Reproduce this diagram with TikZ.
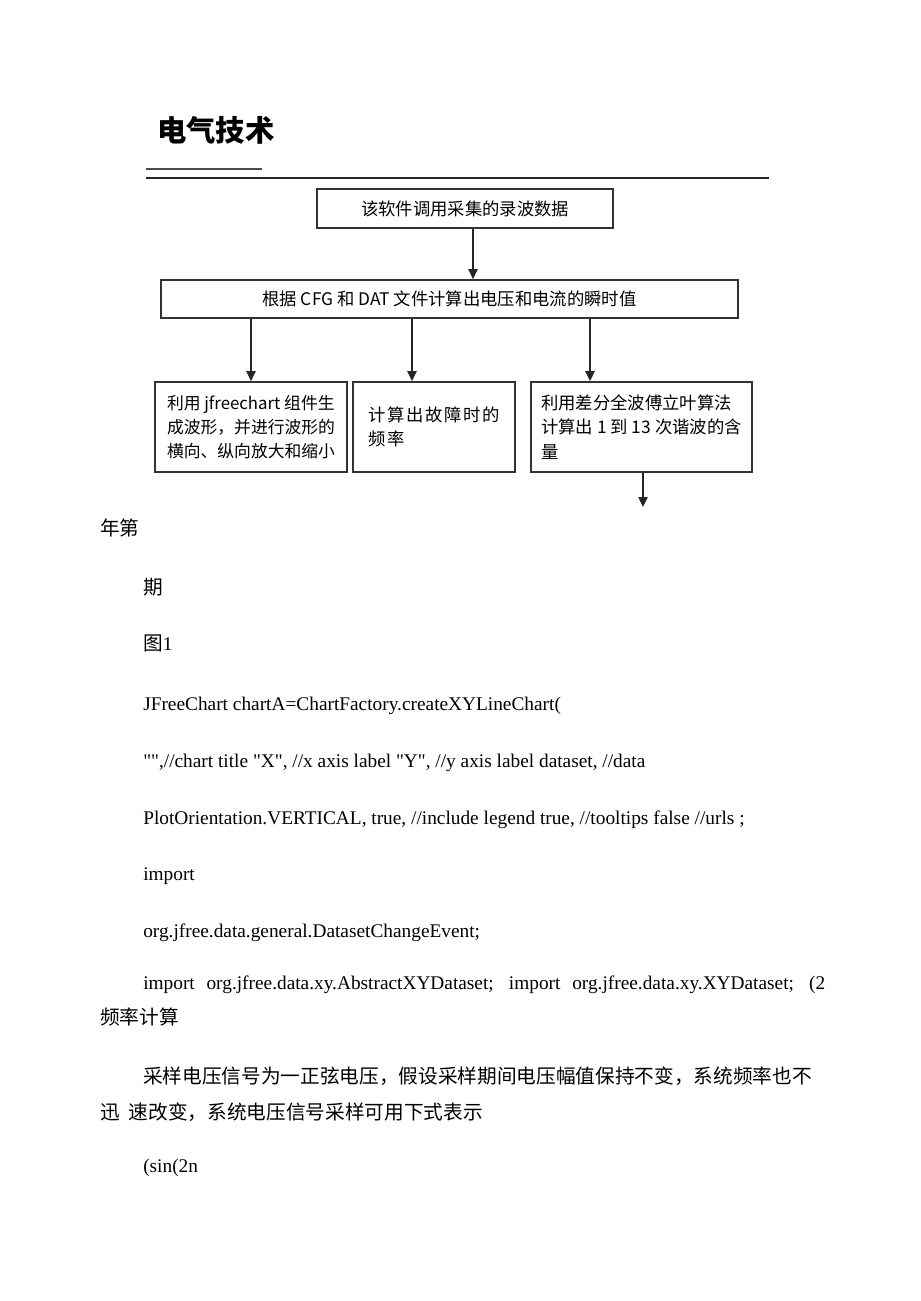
\documentclass[tikz,border=0pt]{standalone}
\usepackage{fontspec}
\setmainfont{Liberation Serif}
\newfontfamily\cjk{Noto Sans CJK SC}
\newfontfamily\plainserif{Liberation Serif}
\newcommand\qt{{\plainserif\symbol{34}}}
\usetikzlibrary{arrows.meta}

\begin{document}
\begin{tikzpicture}[x=0.75pt,y=-0.75pt,
  box/.style={draw=black!80,line width=1.3pt,inner sep=0pt,
    font=\cjk\fontsize{13}{17.6}\selectfont},
  arr/.style={draw=black!85,line width=1pt,-{Triangle[length=7.5pt,width=7pt]}},
  txt/.style={anchor=base west,inner sep=0pt,font=\fontsize{14.5}{17}\selectfont},
  zh/.style={txt,font=\cjk\fontsize{14.75}{18}\selectfont}]
  \useasboundingbox (0,0) rectangle (920,1301);
  % heading
  \node[anchor=west,inner sep=0pt,font=\cjk\bfseries\fontsize{22}{24}\selectfont] (title) at (157,130) {电气技术};
  \draw[line width=.8pt,black!70] (146,169) -- (262,169);
  \draw[line width=1.1pt,black!85] (146,178) -- (769,178);
  % flow chart
  \node[box,minimum width=222pt,minimum height=29.25pt] (read) at (465,208.5) {该软件调用采集的录波数据};
  \node[box,minimum width=432.75pt,minimum height=28.5pt] (calc) at (449.5,299) {根据 CFG 和 DAT 文件计算出电压和电流的瞬时值};
  \node[box,minimum width=144pt,minimum height=67.5pt,align=left,
    font=\cjk\fontsize{12.6}{18}\selectfont] (wave) at (251,427) {利用 jfreechart 组件生\\成波形，并进行波形的\\横向、纵向放大和缩小};
  \node[box,minimum width=121.5pt,minimum height=67.5pt,align=left,
    font=\cjk\fontsize{13}{17.6}\selectfont\addfontfeatures{LetterSpace=10}] (freq) at (434,427) {计算出故障时的\\频率};
  \node[box,minimum width=165.75pt,minimum height=67.5pt,align=left,
    font=\cjk\fontsize{13}{18.5}\selectfont] (harm) at (641.5,427) {利用差分全波傅立叶算法\\计算出 1 到 13 次谐波的含\\量};
  \coordinate (next) at (643,507);
  \draw[arr] ([xshift=6pt]read.south) -- ([xshift=6pt]read.south |- calc.north);
  \draw[arr] (calc.south -| wave.north) -- (wave.north);
  \draw[arr] ([xshift=-16.5pt]freq.north |- calc.south) -- ([xshift=-16.5pt]freq.north);
  \draw[arr] ([xshift=-38.6pt]harm.north |- calc.south) -- ([xshift=-38.6pt]harm.north);
  \draw[arr] (harm.south -| next) -- (next);
  % text below
  \node[zh] (year) at (100,535) {年第};
  \node[zh] (issue) at (143,594) {期};
  \node[txt] (fig) at (143,650) {{\cjk\fontsize{14.75}{18}\selectfont 图}1};
  \node[txt] (code1) at (143,710) {JFreeChart chartA=ChartFactory.createXYLineChart(};
  \node[txt] (code2) at (143,767) {\qt\qt,//chart title \qt X\qt, //x axis label \qt Y\qt, //y axis label dataset, //data};
  \node[txt] (code3) at (143,824) {PlotOrientation.VERTICAL, true, //include legend true, //tooltips false //urls ;};
  \node[txt] (code4) at (143,880) {import};
  \node[txt] (code5) at (143,937) {org.jfree.data.general.DatasetChangeEvent;};
  \node[txt] (code6) at (143,989) {\makebox[511.5pt][s]{import org.jfree.data.xy.AbstractXYDataset; import org.jfree.data.xy.XYDataset; (2}};
  \node[zh] (sec) at (100,1024) {频率计算};
  \node[zh] (para1) at (143,1083) {采样电压信号为一正弦电压，假设采样期间电压幅值保持不变，系统频率也不};
  \node[zh] (para2) at (100,1119) {迅\ \ 速改变，系统电压信号采样可用下式表示};
  \node[txt] (eq) at (143,1172) {(sin(2n};
\end{tikzpicture}
\end{document}
